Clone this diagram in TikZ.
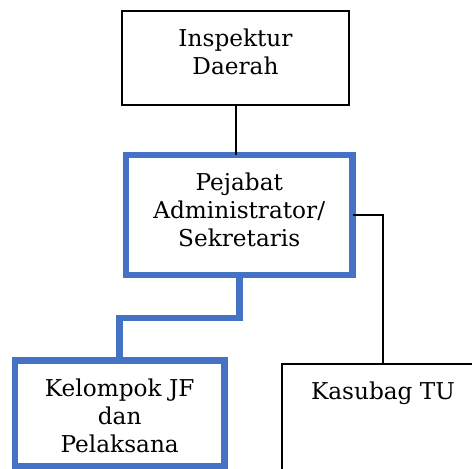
\documentclass[tikz,border=0pt]{standalone}
\usepackage{fontspec}
\setmainfont{DejaVu Serif}
\usetikzlibrary{positioning}
\definecolor{ofcblue}{RGB}{68,114,196}
\tikzset{
	thinbox/.style={draw=black, line width=1pt, outer sep=0pt, inner sep=0pt},
	bluebox/.style={draw=ofcblue, line width=3.25pt, outer sep=0pt, inner sep=0pt},
	boxtext/.style={inner sep=0pt, align=center, font=\fontsize{11.6}{14}\selectfont},
	thinline/.style={black, line width=1pt},
	blueline/.style={ofcblue, line width=3.25pt}
}
\begin{document}
\begin{tikzpicture}[x=0.5pt, y=-0.5pt]
	\clip (0,0) rectangle (472,468);
	% kotak
	\node[thinbox, minimum width=113.5pt, minimum height=47pt] (insp) at (235.5,58) {};
	\node[bluebox, minimum width=113.25pt, minimum height=60pt] (pej) at (239.25,215) {};
	\node[bluebox, minimum width=104.6pt, minimum height=52.9pt] (kel) at (119.7,413.6) {};
	\node[thinbox, minimum width=101pt, minimum height=70pt] (kas) at (383,434) {};
	% teks
	\node[boxtext, below=8.7pt of insp.north] (insptxt) {Inspektur\\Daerah};
	\node[boxtext, below=8.7pt of pej.north] (pejtxt) {Pejabat\\Administrator/\\Sekretaris};
	\node[boxtext, below=8.7pt of kel.north] (keltxt) {Kelompok JF\\dan\\Pelaksana};
	\node[boxtext, below=8.7pt of kas.north] (kastxt) {Kasubag TU};
	% garis
	\draw[thinline] (insp.south) -- (insp.south |- pej.north);
	\draw[thinline] (pej.east) -| (kas.north);
	\draw[blueline] (pej.south) -- ++(0,43) -| (kel.north);
\end{tikzpicture}
\end{document}
